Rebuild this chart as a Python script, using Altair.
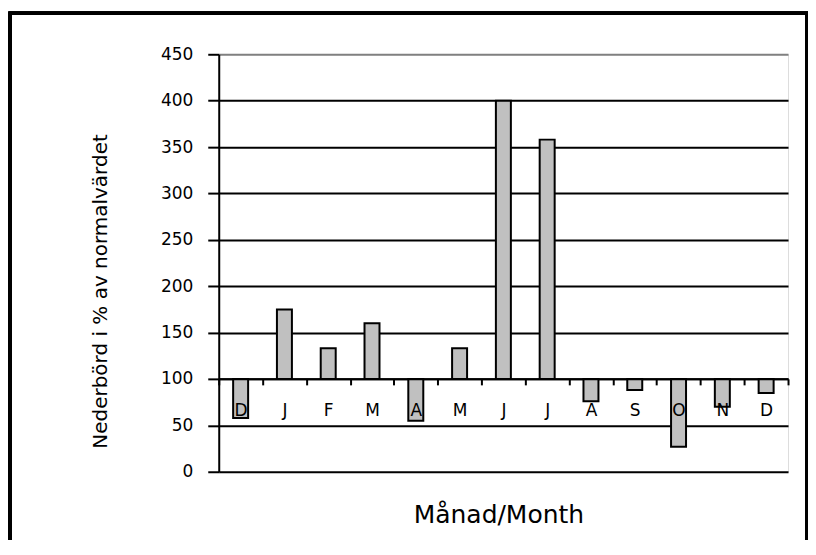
import altair as alt
import pandas as pd

months = ["D", "J", "F", "M", "A", "M", "J", "J", "A", "S", "O", "N", "D"]
values = [58, 175, 133, 160, 55, 133, 400, 358, 76, 88, 27, 70, 85]
y_ticks = [0, 50, 100, 150, 200, 250, 300, 350, 400, 450]
baseline = 100

df = pd.DataFrame({"idx": list(range(len(months))), "month": months, "value": values})

label_expr = "[" + ",".join("'%s'" % m for m in months) + "][datum.value]"

FONT = "DejaVu Sans"

bars = alt.Chart(df).mark_bar(width=15, color="#c0c0c0", stroke="black", strokeWidth=2).encode(
    x=alt.X(
        "idx:O",
        scale=alt.Scale(paddingInner=0, paddingOuter=0),
        axis=alt.Axis(
            offset=-93,
            labelExpr=label_expr,
            labelAngle=0,
            labelFont=FONT,
            labelFontSize=17,
            labelColor="black",
            labelPadding=18,
            labelBaseline="top",
            tickBand="extent",
            tickColor="black",
            tickSize=6,
            tickWidth=2,
            domainColor="black",
            domainWidth=2,
            title="Månad/Month",
            titleFont=FONT,
            titleFontSize=25,
            titleFontWeight="normal",
            titleColor="black",
            titleY=136,
            titleX=280,
            titleBaseline="middle",
            zindex=2,
        ),
    ),
    y=alt.Y(
        "value:Q",
        scale=alt.Scale(domain=[0, 450], nice=False),
        axis=alt.Axis(
            values=y_ticks,
            labelFont=FONT,
            labelFontSize=17,
            labelColor="black",
            labelPadding=15,
            tickColor="black",
            tickSize=11,
            tickWidth=2,
            domainColor="black",
            domainWidth=2,
            grid=True,
            gridColor=alt.condition("datum.value == 450", alt.value("#808080"), alt.value("black")),
            gridWidth=2,
            gridOpacity=1,
            title="Nederbörd i % av normalvärdet",
            titleFont=FONT,
            titleFontSize=20,
            titleFontWeight="normal",
            titleColor="black",
            titleX=-118,
            titleY=237,
            titleAngle=270,
            titleAlign="center",
            titleBaseline="middle",
        ),
    ),
    y2=alt.datum(baseline),
)

frame = alt.Chart(df).mark_rect(fill=None, stroke="black", strokeWidth=3, clip=False).encode(
    x=alt.value(-209), x2=alt.value(589), y=alt.value(-41), y2=alt.value(505)
)

chart = alt.layer(bars, frame).properties(
    width=570,
    height=418,
    autosize=alt.AutoSizeParams(type="none"),
    padding={"left": 211, "top": 46, "right": 20, "bottom": 68},
).configure_view(stroke="#808080", strokeWidth=2).configure(background="white")

chart.save("out.html", embed_options={"renderer": "svg", "actions": False})
